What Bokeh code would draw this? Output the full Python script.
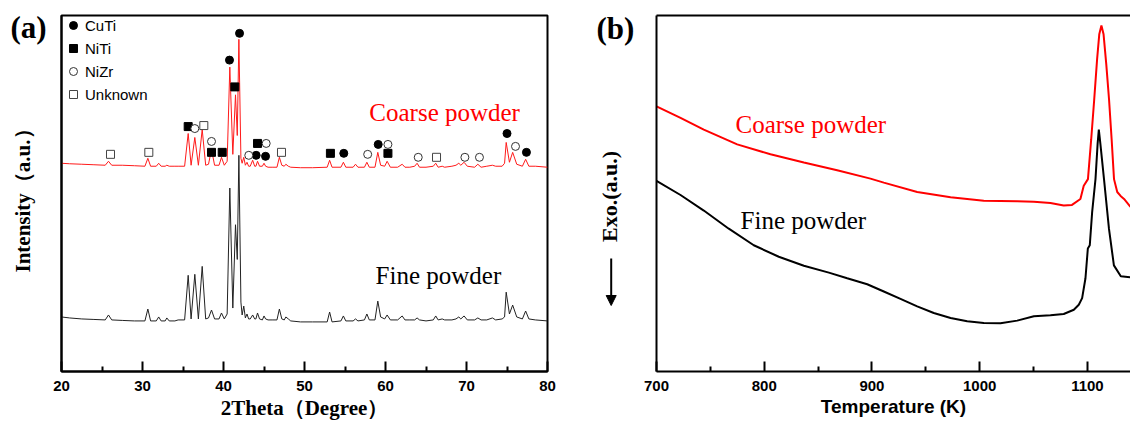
import math
from bokeh.plotting import figure
from bokeh.layouts import row
from bokeh.models import (FixedTicker, Label, Legend, LegendItem, LinearAxis,
                          Range1d, Arrow, NormalHead)
from bokeh.embed import file_html
from bokeh.resources import INLINE

# ---------------- (a) XRD data ----------------
two_theta = [
    20.0, 21.0, 22.5, 24.0, 25.4, 25.8, 26.2, 27.5, 29.0, 30.3,
    30.66, 31.0, 31.7, 32.0, 32.3, 32.8, 33.0, 33.3, 34.0, 34.4,
    35.2, 35.64, 36.0, 36.46, 36.9, 37.37, 37.8, 38.15, 38.52, 38.9,
    39.45, 39.75, 40.1, 40.45, 40.78, 41.15, 41.48, 41.7, 41.9, 42.15,
    42.3, 42.5, 42.7, 42.9, 43.1, 43.3, 43.6, 43.85, 44.0, 44.2,
    44.45, 44.8, 45.0, 45.2, 45.5, 46.0, 46.6, 46.9, 47.2, 47.5,
    47.7, 48.0, 48.3, 49.5, 51.0, 52.8, 53.1, 53.4, 54.5, 54.8,
    55.1, 56.0, 56.3, 56.6, 57.4, 57.7, 58.0, 58.7, 59.05, 59.4,
    59.9, 60.2, 60.6, 61.5, 62.06, 62.4, 63.0, 63.6, 63.9, 64.2,
    65.0, 65.9, 66.2, 66.5, 67.0, 67.3, 68.2, 68.7, 69.05, 69.3,
    69.7, 70.1, 71.0, 71.4, 71.8, 72.5, 73.2, 73.6, 74.4, 74.7,
    74.9, 75.3, 75.7, 76.2, 76.9, 77.3, 77.7, 78.5, 80.0,
]
intensity_fine = [
    55, 54, 53, 52.5, 52, 57, 52, 51.5, 51, 51,
    63, 51, 51, 55, 51, 51, 54, 51, 51, 52,
    52, 97, 53, 98, 53, 106, 53, 54, 62, 53,
    53, 59, 53, 58, 185, 64, 148, 113, 218, 70,
    57, 66, 54, 58, 53, 53, 57, 53, 53, 59,
    53, 52, 56, 53, 52, 52, 52, 63, 53, 52,
    55, 53, 51, 50, 50, 50, 60, 50, 51, 56,
    51, 51, 53, 51, 52, 58, 52, 52, 71, 55,
    53, 57, 52, 52, 56, 52, 52, 52, 54, 52,
    51, 52, 56, 52, 53, 52, 52, 53, 55, 53,
    56, 52, 52, 54, 52, 52, 54, 52, 53, 55,
    80, 58, 67, 55, 53, 61, 53, 52, 51,
]
intensity_coarse = [
    210, 209.5, 209, 208.5, 208, 212, 208, 208, 207.5, 207,
    215, 207, 207, 210, 207, 207, 208, 207, 207, 207,
    207, 240, 208, 236, 208, 244, 208, 209, 224, 208,
    208, 216, 208, 212, 307, 219, 279, 238, 335, 215,
    210, 216, 208, 211, 207, 207, 213, 207, 207, 212,
    207, 207, 210, 207, 206, 206, 206, 216, 208, 207,
    209, 207, 206, 205.5, 205.5, 206, 213, 206, 206, 211,
    206, 206, 209, 206, 206, 211, 206, 206, 221, 208,
    207, 212, 206, 206, 209, 206, 206, 207, 210, 206,
    206, 207, 210, 206, 207, 206, 207, 208, 210, 208,
    211, 207, 206, 209, 206, 207, 208, 207, 207, 210,
    231, 211, 221, 209, 207, 214, 207, 207, 206,
]
assert len(two_theta) == len(intensity_fine) == len(intensity_coarse)

# phase markers (2theta, height)
cuti_theta = [40.74, 41.98, 44.03, 45.19, 54.85, 59.1, 75.0, 77.4]
cuti_y = [314, 341, 218, 217, 220, 229, 240, 221]
niti_theta = [35.64, 41.4, 38.52, 39.84, 44.2, 53.2, 60.3]
niti_y = [247, 287, 221, 221, 230, 220, 220]
nizr_theta = [36.46, 38.52, 43.12, 45.27, 57.8, 60.3, 64.04, 69.8, 71.6, 76.05]
nizr_y = [245, 232, 218, 230, 219, 229, 216, 216, 216, 227]
unknown_theta = [26.05, 30.78, 37.57, 47.16, 66.3]
unknown_y = [219, 221, 248, 221, 216]

xrd_ticks = [20, 30, 40, 50, 60, 70, 80]
xrd_minor = [25, 35, 45, 55, 65, 75]

# ---------------- (b) DSC data ----------------
temp_coarse = [700, 722.3, 743.9, 774.9, 805.8, 836.8, 867.7, 898.6, 911, 942,
               973, 1003.8, 1034.8, 1050.3, 1065.7, 1078, 1085.7, 1093.5, 1096.6, 1100.5,
               1103.5, 1106.3, 1109, 1111, 1113, 1115, 1117.5, 1120.1, 1122.5, 1124.7,
               1127.7, 1130.8, 1134, 1140]
dsc_coarse = [267.3, 255.7, 244, 229, 219, 210.7, 203, 194.5, 190.5, 181,
              175.7, 172.3, 171.7, 171.3, 170, 167.3, 168, 174, 187.3, 194,
              234, 274, 315, 340, 349, 340, 310, 274, 234, 194,
              181, 177, 174, 166]
temp_fine = [700, 722.3, 743.9, 767.1, 790.3, 813.5, 836.8, 860, 877, 895.6,
             911, 926.5, 942, 957.4, 973, 988.4, 1003.8, 1019.3, 1034.8, 1050.3,
             1065.7, 1078, 1087.4, 1092, 1095.1, 1098.2, 1100.4, 1102.2, 1104.4, 1107.5,
             1109.5, 1110.6, 1112, 1115.4, 1120, 1124.6, 1131, 1140]
dsc_fine = [192.3, 178, 162.3, 144, 127.3, 115.7, 106.7, 99.7, 94, 88,
            80.7, 73.3, 65.7, 59, 54, 50.7, 49, 48.7, 51.3, 55.7,
            56.7, 58, 62.3, 67.3, 74, 94, 124, 127.3, 160.7, 194,
            230, 244, 230, 194, 144, 107, 96, 95]
assert len(temp_coarse) == len(dsc_coarse) and len(temp_fine) == len(dsc_fine)
dsc_ticks = [700, 800, 900, 1000, 1100]
dsc_minor = [750, 850, 950, 1050]

SERIF = "Liberation Serif"
SANS = "Liberation Sans"
RED = "#ff0000"
H = 422
OFF = 12  # the bare strips' frame starts this many px below the canvas top


def style_axis(ax):
    ax.axis_line_width = 2
    ax.axis_line_color = "black"
    ax.major_tick_in = 10
    ax.major_tick_out = 0
    ax.minor_tick_in = 5
    ax.minor_tick_out = 0
    ax.major_tick_line_width = 2
    ax.minor_tick_line_width = 2
    ax.major_label_text_font = SANS
    ax.major_label_text_font_style = "bold"
    ax.major_label_text_font_size = "15px"
    ax.major_label_text_color = "black"
    ax.major_label_standoff = 9
    ax.axis_label_text_color = "black"
    ax.axis_label_text_font_style = "bold"
    ax.axis_label_text_font_size = "21px"


def strip(width):
    """A bare, pixel-scaled figure (no title, no axes) for the outer panel texts."""
    s = figure(width=width, height=H, frame_width=width, frame_height=H,
               output_backend="svg", toolbar_location=None,
               x_range=Range1d(0, width), y_range=Range1d(0, H),
               x_axis_location=None, y_axis_location=None, min_border=0,
               min_border_left=0, min_border_right=0, min_border_top=0,
               min_border_bottom=0)
    s.title = None
    s.xgrid.visible = False
    s.ygrid.visible = False
    s.outline_line_color = None
    return s


def sy(px):
    """page pixel row -> strip data y"""
    return H + OFF - px


# ================= left strip of (a) =================
sa = strip(50)
sa.add_layout(Label(x=10, y=410, text="(a)", text_font=SERIF,
                    text_font_style="bold", text_font_size="31px",
                    text_color="black", text_baseline="alphabetic"))
sa.add_layout(Label(x=22, y=242, text="Intensity（a.u.）", text_font=SERIF,
                    text_font_style="bold", text_font_size="21px",
                    text_color="black", angle=math.pi / 2,
                    text_align="center", text_baseline="middle"))

# ================= panel (a) =================
p1 = figure(width=520, height=H, output_backend="svg", toolbar_location=None,
            x_range=Range1d(20, 80), y_range=Range1d(0, 359),
            min_border_left=11, min_border_right=23, min_border_top=14,
            min_border_bottom=49)
p1.xgrid.visible = False
p1.ygrid.visible = False
p1.outline_line_color = "black"
p1.outline_line_width = 2
p1.outline_line_alpha = 1

p1.line(two_theta, intensity_fine, line_color="#222222", line_width=1)
p1.line(two_theta, intensity_coarse, line_color="#ff1a1a", line_width=1)

r_cuti = p1.scatter(cuti_theta, cuti_y, marker="circle", size=8,
                    fill_color="black", line_color="black")
r_niti = p1.scatter(niti_theta, niti_y, marker="square", size=8,
                    fill_color="black", line_color="black")
r_nizr = p1.scatter(nizr_theta, nizr_y, marker="circle", size=8,
                    fill_color="white", line_color="#333333", line_width=1)
r_unk = p1.scatter(unknown_theta, unknown_y, marker="square", size=8,
                   fill_color="white", line_color="#444444", line_width=1)

legend = Legend(items=[LegendItem(label="CuTi", renderers=[r_cuti]),
                       LegendItem(label="NiTi", renderers=[r_niti]),
                       LegendItem(label="NiZr", renderers=[r_nizr]),
                       LegendItem(label="Unknown", renderers=[r_unk])],
                location="top_left", margin=0, padding=5, spacing=3,
                glyph_width=24, glyph_height=20, label_height=20,
                label_standoff=0, label_text_font=SANS,
                label_text_font_size="15px", label_text_color="black",
                border_line_color=None, background_fill_alpha=0)
p1.add_layout(legend)

p1.xaxis.ticker = FixedTicker(ticks=xrd_ticks, minor_ticks=xrd_minor)
p1.xaxis.axis_label = "2Theta（Degree）"
p1.yaxis.ticker = FixedTicker(ticks=[])
for ax in (p1.xaxis[0], p1.yaxis[0]):
    style_axis(ax)
    ax.axis_label_text_font = SERIF
p1.yaxis.major_label_standoff = 0
p1.xaxis.axis_label_standoff = 2

p1.add_layout(Label(x=58.0, y=261, text="Coarse powder", text_font=SERIF,
                    text_font_size="25px", text_color=RED,
                    text_baseline="alphabetic"))
p1.add_layout(Label(x=58.77, y=97, text="Fine powder", text_font=SERIF,
                    text_font_size="25px", text_color="black",
                    text_baseline="alphabetic"))

# ================= left strip of (b) =================
sb = strip(70)
sb.add_layout(Label(x=26, y=409, text="(b)", text_font=SERIF,
                    text_font_style="bold", text_font_size="31px",
                    text_color="black", text_baseline="alphabetic"))
sb.add_layout(Label(x=38.5, y=241, text="Exo.(a.u.)", text_font=SERIF,
                    text_font_style="bold", text_font_size="22px",
                    text_color="black", angle=math.pi / 2,
                    text_align="center", text_baseline="middle"))
sb.add_layout(Arrow(end=NormalHead(size=10, fill_color="black", line_color="black"),
                    x_start=40.7, y_start=sy(255), x_end=40.7, y_end=sy(302),
                    line_width=2, line_color="black"))

# ================= panel (b) =================
p2 = figure(width=490, height=H, output_backend="svg", toolbar_location=None,
            x_range=Range1d(700, 1140), y_range=Range1d(0, 359),
            min_border_left=16, min_border_right=0, min_border_top=15,
            min_border_bottom=48)
p2.xgrid.visible = False
p2.ygrid.visible = False
p2.outline_line_color = None

p2.line(temp_coarse, dsc_coarse, line_color=RED, line_width=2)
p2.line(temp_fine, dsc_fine, line_color="black", line_width=2)

p2.xaxis.ticker = FixedTicker(ticks=dsc_ticks, minor_ticks=dsc_minor)
p2.xaxis.axis_label = "Temperature (K)"
p2.yaxis.ticker = FixedTicker(ticks=[])
for ax in (p2.xaxis[0], p2.yaxis[0]):
    style_axis(ax)
p2.yaxis.major_label_standoff = 0
p2.xaxis.axis_label_text_font = SANS
p2.xaxis.axis_label_text_font_size = "19px"
p2.xaxis.axis_label_standoff = 2

top_axis = LinearAxis(ticker=FixedTicker(ticks=[]), axis_line_width=2,
                      axis_line_color="black", major_tick_line_color=None,
                      minor_tick_line_color=None, major_label_standoff=0)
p2.add_layout(top_axis, "above")

p2.add_layout(Label(x=773.3, y=249, text="Coarse powder", text_font=SERIF,
                    text_font_size="25px", text_color=RED,
                    text_baseline="alphabetic"))
p2.add_layout(Label(x=778.0, y=152.7, text="Fine powder", text_font=SERIF,
                    text_font_size="25px", text_color="black",
                    text_baseline="alphabetic"))

layout = row(sa, p1, sb, p2, spacing=0)
open("out.html", "w").write(file_html(layout, INLINE))
